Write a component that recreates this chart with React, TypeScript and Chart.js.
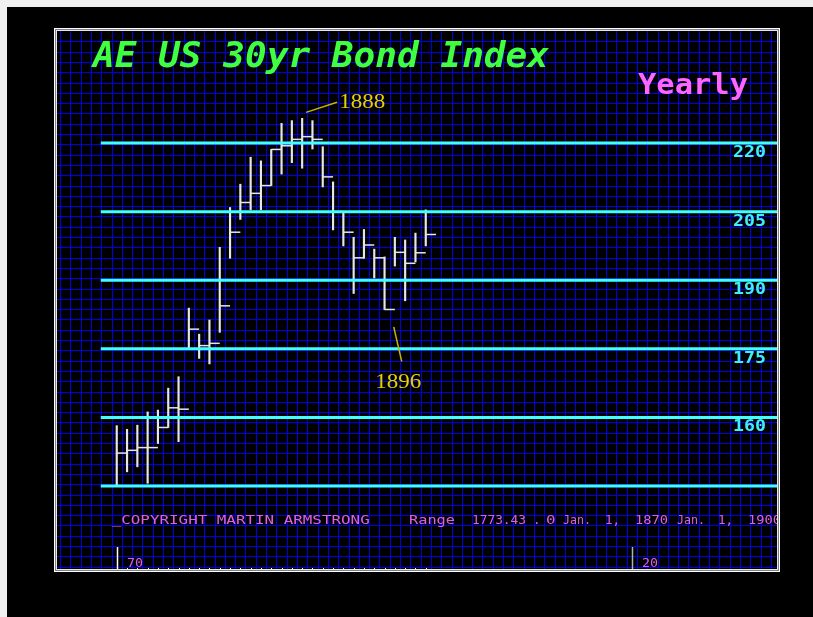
import React, { useEffect, useRef } from "react";
import { Chart, registerables } from "chart.js";
Chart.register(...registerables);

// ---- data ----
const YEARS = [1870, 1871, 1872, 1873, 1874, 1875, 1876, 1877, 1878, 1879, 1880, 1881, 1882, 1883, 1884, 1885, 1886, 1887, 1888, 1889, 1890, 1891, 1892, 1893, 1894, 1895, 1896, 1897, 1898, 1899, 1900];
const HIGHS = [158.2, 157.4, 158.3, 161.2, 161.6, 166.4, 168.9, 183.9, 178.2, 181.3, 197.2, 205.9, 211.0, 216.9, 216.1, 218.6, 224.3, 224.9, 225.4, 224.9, 219.2, 211.5, 205.0, 199.4, 201.1, 196.8, 195.1, 199.4, 198.8, 200.3, 205.4];
const LOWS = [145.2, 148.1, 149.2, 145.6, 154.3, 157.8, 154.7, 175.1, 172.9, 171.7, 178.6, 194.8, 203.3, 205.4, 205.4, 210.7, 213.2, 215.7, 214.5, 218.7, 210.4, 201.0, 197.5, 187.1, 194.8, 190.5, 183.6, 193.1, 185.5, 194.0, 197.5];
const CLOSES = [152.2, 152.8, 153.4, 153.4, 157.8, 162.1, 161.8, 179.3, 175.7, 176.2, 184.4, 200.5, 207.0, 209.0, 210.7, 218.6, 219.4, 220.8, 221.4, 220.8, 212.6, 205.0, 200.5, 194.9, 197.7, 194.9, 183.6, 196.1, 193.7, 196.0, 200.0];

const LEVELS = [145, 160, 175, 190, 205, 220];
const LEVEL_LABELS = ["", "160", "175", "190", "205", "220"];
const AXIS_TICK_YEARS = [1870, 1920];
const AXIS_TICK_LABELS = ["70", "20"];

const TITLE = "AE US 30yr Bond Index";
const PERIOD = "Yearly";
const COPYRIGHT = "_COPYRIGHT MARTIN ARMSTRONG";
const RANGE_TEXT = ["Range", "1773.43", ".", "0", "Jan.", "1,", "1870", "Jan.", "1,", "1900"];

const CALLOUT_LABELS = ["1888", "1896"];
const CALLOUT_TEXT_AT = [[1891.6, 227.6], [1895.1, 166.4]];
const CALLOUT_LINE_FROM = [[1888.38, 226.7], [1896.89, 179.8]];
const CALLOUT_LINE_TO = [[1891.39, 228.9], [1897.67, 172.2]];

// ---- scale range ----
const X_MIN = 1864.2;
const X_MAX = 1934.1;
const Y_MIN = 126.85;
const Y_MAX = 244.5;
const LEVEL_LINE_START = 1868.45;

// ---- layout (canvas px) ----
const W = 806;
const H = 610;
const MONO = '"DejaVu Sans Mono", monospace';
const RANGE_X = [402, 465, 526, 539, 556, 598, 628, 670, 711, 741];
const RANGE_W = [46, 54, 0, 0, 28, 0, 33, 28, 0, 33];
const RANGE_SX = [1, 1, 1, 1.27, 1, 1, 1, 1, 1, 1];

function drawScaled(ctx: CanvasRenderingContext2D, text: string, x: number, y: number, font: string, color: string, width: number, sx = 1) {
  ctx.save();
  ctx.font = font;
  ctx.fillStyle = color;
  ctx.textAlign = "left";
  ctx.textBaseline = "alphabetic";
  const w = ctx.measureText(text).width;
  const s = width > 0 ? width / w : sx;
  ctx.translate(x, y);
  ctx.scale(s, 1);
  ctx.fillText(text, 0, 0);
  ctx.restore();
}

const decor = {
  id: "decor",
  beforeDatasetsDraw(chart: any) {
    const { ctx, chartArea: a, scales } = chart;
    const x = scales.x;
    ctx.save();
    ctx.fillStyle = "#000";
    ctx.fillRect(a.left, a.top, a.right - a.left, a.bottom - a.top);
    // blue grid
    ctx.strokeStyle = "#0000e0";
    ctx.lineWidth = 1;
    ctx.beginPath();
    for (let yr = Math.floor(X_MIN) - 1; yr <= X_MAX; yr++) {
      const px = x.getPixelForValue(yr + 0.5);
      if (px <= a.left || px >= a.right) continue;
      const sx = Math.round(px) + 0.5;
      ctx.moveTo(sx, a.top);
      ctx.lineTo(sx, a.bottom);
    }
    const step = x.getPixelForValue(1) - x.getPixelForValue(0);
    for (let py = a.top + step; py < a.bottom; py += step) {
      const sy = Math.round(py) + 0.5;
      ctx.moveTo(a.left, sy);
      ctx.lineTo(a.right, sy);
    }
    ctx.stroke();

    // title and period
    drawScaled(ctx, TITLE, 86, 60, `bold oblique 36px ${MONO}`, "#40ff40", 456);
    drawScaled(ctx, PERIOD, 631, 87, `bold 28px ${MONO}`, "#ff66ff", 110);

    // copyright + range line
    drawScaled(ctx, COPYRIGHT, 104.7, 517, `12.5px ${MONO}`, "#e060e0", 258);
    ctx.save();
    ctx.beginPath();
    ctx.rect(a.left, a.top, a.right - a.left, a.bottom - a.top);
    ctx.clip();
    RANGE_TEXT.forEach((t, i) => {
      drawScaled(ctx, t, RANGE_X[i], 517, `12.5px ${MONO}`, "#e060e0", RANGE_W[i], RANGE_SX[i]);
    });
    ctx.restore();

    // axis ticks and labels
    AXIS_TICK_YEARS.forEach((yr, i) => {
      const px = Math.round(x.getPixelForValue(yr)) + 0.5;
      ctx.strokeStyle = i === 0 ? "#ffffff" : "#b0b0b0";
      ctx.lineWidth = 1.5;
      ctx.beginPath();
      ctx.moveTo(px, 540);
      ctx.lineTo(px, a.bottom);
      ctx.stroke();
      drawScaled(ctx, AXIS_TICK_LABELS[i], px + 9.5, 560, `13px ${MONO}`, "#e060e0", 16);
    });
    ctx.restore();
  },
  afterDatasetsDraw(chart: any) {
    const { ctx, chartArea: a, scales } = chart;
    const x = scales.x;
    const y = scales.y;
    ctx.save();
    // level labels
    LEVELS.forEach((lv, i) => {
      if (!LEVEL_LABELS[i]) return;
      const py = y.getPixelForValue(lv);
      drawScaled(ctx, LEVEL_LABELS[i], 726, py + 14, `bold 16px ${MONO}`, "#40f0f0", 33);
    });
    // callouts
    CALLOUT_LABELS.forEach((lab, i) => {
      ctx.strokeStyle = "#c8b400";
      ctx.lineWidth = 1.5;
      ctx.beginPath();
      ctx.moveTo(x.getPixelForValue(CALLOUT_LINE_FROM[i][0]), y.getPixelForValue(CALLOUT_LINE_FROM[i][1]));
      ctx.lineTo(x.getPixelForValue(CALLOUT_LINE_TO[i][0]), y.getPixelForValue(CALLOUT_LINE_TO[i][1]));
      ctx.stroke();
      drawScaled(ctx, lab, x.getPixelForValue(CALLOUT_TEXT_AT[i][0]), y.getPixelForValue(CALLOUT_TEXT_AT[i][1]), `21px "Liberation Serif", serif`, "#e6d200", 46);
    });
    // small year ticks on bottom edge
    ctx.strokeStyle = "#ffffff";
    ctx.lineWidth = 1;
    ctx.beginPath();
    YEARS.forEach((yr) => {
      const px = Math.round(x.getPixelForValue(yr)) + 0.5;
      ctx.moveTo(px, a.bottom - 1);
      ctx.lineTo(px, a.bottom + 2);
    });
    ctx.stroke();
    // frame
    const fr = (off: number, col: string) => {
      ctx.strokeStyle = col;
      ctx.lineWidth = 1;
      ctx.strokeRect(a.left - off - 0.5, a.top - off - 0.5, a.right - a.left + 2 * off + 1, a.bottom - a.top + 2 * off + 1);
    };
    fr(2, "#ffffff");
    fr(1, "#808080");
    fr(0, "#e8e8e8");
    ctx.restore();
  },
};

export default function App() {
  const ref = useRef<HTMLCanvasElement | null>(null);
  useEffect(() => {
    document.body.style.background = "#f0f0f0";
    const canvas = ref.current;
    if (!canvas) return;
    const halfYear = (c: any) => {
      const s = c.chart.scales.x;
      return s ? (s.getPixelForValue(1) - s.getPixelForValue(0)) / 2 : 5;
    };
    const datasets: any[] = [
      {
        type: "bar",
        data: YEARS.map((yr, i) => ({ x: yr, y: [LOWS[i], HIGHS[i]] })),
        backgroundColor: "#e6e6e6",
        borderWidth: 0,
        barThickness: 1.5,
        order: 2,
      },
      {
        type: "scatter",
        data: YEARS.map((yr, i) => ({ x: yr + 0.5, y: CLOSES[i] })),
        pointStyle: "line",
        pointRadius: halfYear,
        pointBorderColor: "#e6e6e6",
        pointBorderWidth: 1.5,
        pointBackgroundColor: "#e6e6e6",
        showLine: false,
        order: 1,
      },
      ...LEVELS.map((lv) => ({
        type: "line",
        data: [
          { x: LEVEL_LINE_START, y: lv },
          { x: X_MAX, y: lv },
        ],
        borderColor: "#40ffff",
        borderWidth: 3,
        pointRadius: 0,
        order: 0,
      })),
    ];
    const chart = new Chart(canvas, {
      type: "bar",
      data: { datasets },
      options: {
        animation: false,
        responsive: false,
        maintainAspectRatio: false,
        events: [],
        layout: { padding: { left: 50, top: 24, right: 36, bottom: 48 } },
        scales: {
          x: { type: "linear", min: X_MIN, max: X_MAX, display: false, offset: false, grid: { display: false } },
          y: { type: "linear", min: Y_MIN, max: Y_MAX, display: false, grid: { display: false } },
        },
        plugins: { legend: { display: false }, tooltip: { enabled: false } },
      } as any,
      plugins: [decor],
    });
    return () => chart.destroy();
  }, []);
  return (
    <div style={{ position: "absolute", left: 7, top: 7, width: W, height: H, background: "#000" }}>
      <canvas ref={ref} width={W} height={H} style={{ display: "block", width: W, height: H }} />
    </div>
  );
}
